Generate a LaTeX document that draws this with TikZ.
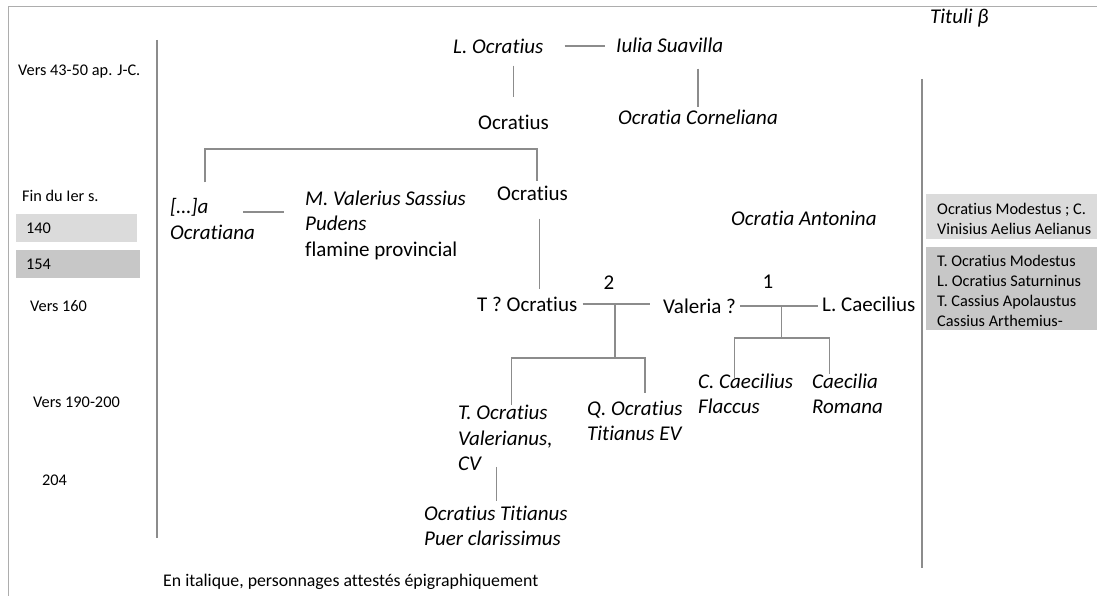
\documentclass[tikz,border=0pt]{standalone}
\usepackage{fontspec}
\setmainfont[Ligatures=NoCommon]{Carlito}
\usetikzlibrary{calc}
\definecolor{linegray}{gray}{0.55}
\definecolor{framegray}{gray}{0.68}
\definecolor{boxlight}{gray}{0.86}
\definecolor{boxdark}{gray}{0.78}
\begin{document}
\begin{tikzpicture}[x=1pt, y=-1pt,
    person/.style={anchor=west, inner sep=0pt, align=left, font=\fontsize{21}{25.5}\selectfont},
    attested/.style={person, font=\fontsize{21}{25.5}\selectfont\itshape},
    period/.style={anchor=west, inner sep=0pt, align=left, font=\fontsize{16.3}{20}\selectfont},
    link/.style={draw=linegray, line width=1.3pt},
    rule/.style={draw=linegray, line width=1.4pt}]
    \useasboundingbox (0,0) rectangle (1097,596);

    % frame and time axis
    \draw[framegray, line width=1pt] (1097,7) -- (8,7) -- (8,596);
    \draw[rule] (157,40) -- (157,538);
    \draw[rule] (922,79) -- (922,568);

    \fill[boxlight] (16,214) rectangle (137,242);
    \fill[boxdark] (16,250) rectangle (140,278);
    \node[period] (d43) at (18,72) {Vers 43-50 ap. J-C.};
    \node[period] (dfin) at (22,196) {Fin du Ier s.};
    \node[period] (d140) at (26,228) {140};
    \node[period] (d154) at (26,264) {154};
    \node[period] (d160) at (30,306) {Vers 160};
    \node[period] (d190) at (33,402) {Vers 190-200};
    \node[period] (d204) at (42,480) {204};

    % tituli
    \node[attested] (tituli) at (930,18) {Tituli β};
    \fill[boxlight] (926,194) rectangle (1097,239);
    \fill[boxdark] (926,247) rectangle (1097,330);
    \node[period] (tit1) at (937,219) {Ocratius Modestus ; C.\\Vinisius Aelius Aelianus};
    \node[period] (tit2) at (937,291) {T. Ocratius Modestus\\L. Ocratius Saturninus\\T. Cassius Apolaustus\\Cassius Arthemius-};

    % persons
    \node[attested] (locr) at (453,46) {L. Ocratius};
    \node[attested] (iulia) at (616,45) {Iulia Suavilla};
    \node[person] (ocr1) at (478,122) {Ocratius};
    \node[attested] (corn) at (618,117) {Ocratia Corneliana};
    \node[person] (ocr2) at (497,193) {Ocratius};
    \node[attested] (ocratiana) at (170,219) {[…]a\\Ocratiana};
    \node[attested] (valerius) at (305,225) {M. Valerius Sassius\\Pudens\\\upshape flamine provincial};
    \node[attested] (antonina) at (731,218) {Ocratia Antonina};
    \node[person] (tocr) at (477,304) {T ? Ocratius};
    \node[person] (valeria) at (663,306) {Valeria ?};
    \node[person] (lcaec) at (822,304) {L. Caecilius};
    \node[person, anchor=center] (w2) at (609,283) {2};
    \node[person, anchor=center] (w1) at (768,282) {1};
    \node[attested] (tval) at (458,438) {T. Ocratius\\Valerianus,\\CV};
    \node[attested] (qocr) at (587,421) {Q. Ocratius\\Titianus EV};
    \node[attested] (ccaec) at (698,394) {C. Caecilius\\Flaccus};
    \node[attested] (caecilia) at (812,394) {Caecilia\\Romana};
    \node[attested] (titianus) at (424,526) {Ocratius Titianus\\Puer clarissimus};

    \node[anchor=west, inner sep=0pt, font=\fontsize{17.8}{22}\selectfont] (legend) at (163,582) {En italique, personnages attestés épigraphiquement};

    % links
    \draw[link, shorten <=21pt, shorten >=11pt] (locr.east) -- (locr.east -| iulia.west);
    \draw[link, shorten <=12pt, shorten >=17pt] (ocr1.north |- locr.south) -- (ocr1.north);
    \draw[link, shorten <=16pt, shorten >=2pt] (corn.north |- iulia.south) -- (corn.north);

    \coordinate (brL) at (205,149);
    \coordinate (brR) at (537,149);
    \draw[link, shorten <=16pt, shorten >=4pt] (brL |- ocratiana.north) -- (brL) -- (brR) -- (brR |- ocr2.north);
    \draw[link, shorten <=18pt, shorten >=8pt] ([xshift=7pt]ocr2.south) coordinate (d2) -- (d2 |- tocr.north);

    \coordinate (oa) at ([xshift=-12pt,yshift=7pt]ocratiana.east);
    \draw[link, shorten >=21pt] (oa) -- (oa -| valerius.west);

    \draw[link, shorten <=5pt, shorten >=13pt] (tocr.east) -- (tocr.east -| valeria.west);
    \coordinate (m2) at ($(tocr.east)!0.44!(tocr.east -| valeria.west)$);
    \path (m2) ++(0,54) coordinate (k2);
    \draw[link] (m2) -- (k2);
    \draw[link, shorten >=8pt] ([xshift=6pt]tval.north) |- (k2) -| ([xshift=10pt]qocr.north);
    \draw[link, shorten <=-4pt, shorten >=5pt] ([xshift=-9pt]tval.south) coordinate (d3) -- (d3 |- titianus.north);

    \draw[link, shorten <=4pt, shorten >=4pt] (valeria.east) -- (valeria.east -| lcaec.west);
    \coordinate (m1) at ($(valeria.east)!0.53!(valeria.east -| lcaec.west)$);
    \path (m1) ++(0,32) coordinate (k1);
    \draw[link] (m1) -- (k1);
    \draw[link, shorten <=-4pt] ([xshift=-11pt]ccaec.north) |- (k1) -| ([xshift=-18pt]caecilia.north);
\end{tikzpicture}
\end{document}
